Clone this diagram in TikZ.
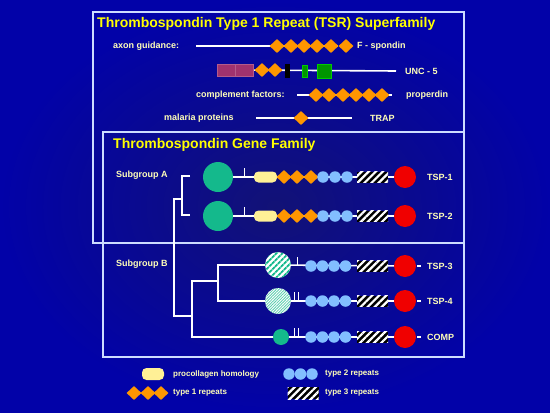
\documentclass[tikz,border=0pt]{standalone}
\usepackage{fontspec}
\setmainfont{Liberation Sans}
\usetikzlibrary{shapes.geometric, positioning, backgrounds, patterns.meta}

\definecolor{navyback}{RGB}{2,2,168}
\definecolor{navymid}{RGB}{18,18,118}
\definecolor{framecol}{RGB}{205,220,255}
\definecolor{titleyellow}{RGB}{255,255,0}
\definecolor{lblyellow}{RGB}{255,255,185}
\definecolor{repeatorange}{RGB}{255,150,0}
\definecolor{repeatblue}{RGB}{130,190,255}
\definecolor{procolyellow}{RGB}{255,240,150}
\definecolor{ntermgreen}{RGB}{20,185,140}
\definecolor{ctermred}{RGB}{240,0,0}
\definecolor{uncpurple}{RGB}{160,50,110}
\definecolor{uncgreen}{RGB}{0,150,0}

\begin{document}
\begin{tikzpicture}[
    x=1pt, y=-1pt,
    every node/.style={font=\bfseries\fontsize{9}{11}\selectfont, text=lblyellow},
    frame/.style={draw=framecol, line width=1.6pt},
    heading/.style={anchor=west, inner sep=0pt, font=\bfseries\fontsize{14}{16}\selectfont, text=titleyellow},
    lbl/.style={anchor=west, inner sep=0pt},
    keylbl/.style={anchor=west, inner sep=0pt, font=\bfseries\fontsize{8}{10}\selectfont},
    backbone/.style={draw=white, line width=1.6pt},
    rep1/.style={diamond, fill=repeatorange, minimum width=15, minimum height=14, inner sep=0pt},
    rep2/.style={circle, fill=repeatblue, minimum size=11.5, inner sep=0pt},
    rep3/.style={rectangle, fill=black, minimum width=31, minimum height=11, inner sep=0pt,
        postaction={pattern={Lines[angle=45, distance=5pt, line width=2.2pt]}, pattern color=white}},
    procol/.style={rectangle, rounded corners=4.5pt, fill=procolyellow, minimum width=23, minimum height=11, inner sep=0pt},
    ntermbig/.style={circle, fill=ntermgreen, minimum size=30, inner sep=0pt},
    ntermstripe/.style={circle, fill=white, minimum size=26, inner sep=0pt,
        postaction={pattern={Lines[angle=45, distance=4pt, line width=2pt]}, pattern color=ntermgreen}},
    ntermpale/.style={circle, fill=white, minimum size=26, inner sep=0pt,
        postaction={pattern={Lines[angle=45, distance=2pt, line width=0.8pt]}, pattern color=ntermgreen!70}},
    ntermsmall/.style={circle, fill=ntermgreen, minimum size=16, inner sep=0pt},
    cterm/.style={circle, fill=ctermred, minimum size=22, inner sep=0pt},
    uncbox/.style={rectangle, fill=uncpurple, draw=uncpurple!80!white, minimum width=18, minimum height=12, inner sep=0pt},
    uncbar/.style={rectangle, fill=black, minimum width=5, minimum height=14, inner sep=0pt},
    uncsmall/.style={rectangle, fill=uncgreen, draw=green!80!black, minimum width=5, minimum height=12, inner sep=0pt},
    uncsquare/.style={rectangle, fill=uncgreen, draw=green!80!black, minimum width=14, minimum height=14, inner sep=0pt}
]
    \useasboundingbox (0,0) rectangle (550,413);
    \begin{scope}[on background layer]
        \shade[inner color=navymid, outer color=navyback] (0,0) rectangle (550,413);
    \end{scope}

    % Superfamily box
    \draw[frame] (93,12) rectangle (464,243);
    \node[heading] (sf_title) at (97,24) {Thrombospondin Type 1 Repeat (TSR) Superfamily};

    % F-spondin
    \node[lbl] (axon_lbl) at (113,46) {axon guidance:};
    \coordinate (fsp_start) at (196,46);
    \node[rep1] (fsp_r1) at (277,46) {};
    \node[rep1] (fsp_r2) at (291,46) {};
    \node[rep1] (fsp_r3) at (304,46) {};
    \node[rep1] (fsp_r4) at (317,46) {};
    \node[rep1] (fsp_r5) at (331,46) {};
    \node[rep1] (fsp_r6) at (346,46) {};
    \node[lbl] (fsp_lbl) at (357,46) {F - spondin};

    % UNC-5
    \node[uncbox] (unc_ig1) at (226,70) {};
    \node[uncbox] (unc_ig2) at (244,70) {};
    \node[rep1] (unc_r1) at (262,70) {};
    \node[rep1] (unc_r2) at (275,70) {};
    \node[uncbar] (unc_tm) at (287,71) {};
    \node[uncsmall] (unc_zu5) at (305,71) {};
    \node[uncsquare] (unc_dd) at (324,71) {};
    \coordinate (unc_end) at (396,71);
    \node[lbl] (unc_lbl) at (405,71) {UNC - 5};

    % properdin
    \node[lbl] (compl_lbl) at (196,95) {complement factors:};
    \coordinate (prop_start) at (297,95);
    \node[rep1] (prop_r1) at (316,95) {};
    \node[rep1] (prop_r2) at (329,95) {};
    \node[rep1] (prop_r3) at (343,95) {};
    \node[rep1] (prop_r4) at (356,95) {};
    \node[rep1] (prop_r5) at (369,95) {};
    \node[rep1] (prop_r6) at (382,95) {};
    \coordinate (prop_end) at (392,95);
    \node[lbl] (prop_lbl) at (406,95) {properdin};

    % TRAP
    \node[lbl] (mal_lbl) at (164,118) {malaria proteins};
    \coordinate (trap_start) at (256,118);
    \node[rep1] (trap_r1) at (301,118) {};
    \coordinate (trap_end) at (352,118);
    \node[lbl] (trap_lbl) at (370,118) {TRAP};

    % Gene family box
    \draw[frame] (103,132) rectangle (464,357);
    \node[heading] (gf_title) at (113,145) {Thrombospondin Gene Family};
    \node[lbl] (subA_lbl) at (116,175) {Subgroup A};
    \node[lbl] (subB_lbl) at (116,264) {Subgroup B};

    % TSP-1
    \node[ntermbig] (tsp1_n) at (218,177) {};
    \node[procol] (tsp1_p) at (265.5,177) {};
    \node[rep1] (tsp1_r1) at (284,177) {};
    \node[rep1] (tsp1_r2) at (297,177) {};
    \node[rep1] (tsp1_r3) at (311,177) {};
    \node[rep2] (tsp1_b1) at (323,177) {};
    \node[rep2] (tsp1_b2) at (335,177) {};
    \node[rep2] (tsp1_b3) at (347,177) {};
    \node[rep3] (tsp1_h) at (372.5,177) {};
    \node[cterm] (tsp1_c) at (405,177) {};
    \node[lbl] (tsp1_lbl) at (427,177) {TSP-1};

    % TSP-2
    \node[ntermbig] (tsp2_n) at (218,216) {};
    \node[procol] (tsp2_p) at (265.5,216) {};
    \node[rep1] (tsp2_r1) at (284,216) {};
    \node[rep1] (tsp2_r2) at (297,216) {};
    \node[rep1] (tsp2_r3) at (311,216) {};
    \node[rep2] (tsp2_b1) at (323,216) {};
    \node[rep2] (tsp2_b2) at (335,216) {};
    \node[rep2] (tsp2_b3) at (347,216) {};
    \node[rep3] (tsp2_h) at (372.5,216) {};
    \node[cterm] (tsp2_c) at (405,216) {};
    \node[lbl] (tsp2_lbl) at (427,216) {TSP-2};

    % TSP-3
    \node[ntermstripe] (tsp3_n) at (278,265) {};
    \node[rep2] (tsp3_b1) at (311,266) {};
    \node[rep2] (tsp3_b2) at (322.5,266) {};
    \node[rep2] (tsp3_b3) at (334,266) {};
    \node[rep2] (tsp3_b4) at (345.5,266) {};
    \node[rep3] (tsp3_h) at (372.5,266) {};
    \node[cterm] (tsp3_c) at (405,266) {};
    \coordinate (tsp3_d1) at (417,266);
    \coordinate (tsp3_d2) at (421,266);
    \node[lbl] (tsp3_lbl) at (427,266) {TSP-3};

    % TSP-4
    \node[ntermpale] (tsp4_n) at (278,301) {};
    \node[rep2] (tsp4_b1) at (311,301) {};
    \node[rep2] (tsp4_b2) at (322.5,301) {};
    \node[rep2] (tsp4_b3) at (334,301) {};
    \node[rep2] (tsp4_b4) at (345.5,301) {};
    \node[rep3] (tsp4_h) at (372.5,301) {};
    \node[cterm] (tsp4_c) at (405,301) {};
    \coordinate (tsp4_d1) at (417,301);
    \coordinate (tsp4_d2) at (421,301);
    \node[lbl] (tsp4_lbl) at (427,301) {TSP-4};

    % COMP
    \node[ntermsmall] (comp_n) at (281,337) {};
    \node[rep2] (comp_b1) at (311,337) {};
    \node[rep2] (comp_b2) at (322.5,337) {};
    \node[rep2] (comp_b3) at (334,337) {};
    \node[rep2] (comp_b4) at (345.5,337) {};
    \node[rep3] (comp_h) at (372.5,337) {};
    \node[cterm] (comp_c) at (405,337) {};
    \coordinate (comp_d1) at (417,337);
    \coordinate (comp_d2) at (421,337);
    \node[lbl] (comp_lbl) at (427,337) {COMP};

    % Tree points
    \coordinate (treeA_top) at (190,176);
    \coordinate (treeA_bot) at (190,215);
    \coordinate (tree_root) at (174,199);
    \coordinate (treeB_mid) at (192,316);
    \coordinate (treeB_in) at (218,281);

    % Key
    \node[procol, minimum width=22, minimum height=12] (key_p) at (153,374) {};
    \node[keylbl] (key_p_lbl) at (173,374) {procollagen homology};
    \node[rep2] (key_b1) at (289,374) {};
    \node[rep2] (key_b2) at (300.5,374) {};
    \node[rep2] (key_b3) at (312,374) {};
    \node[keylbl] (key_b_lbl) at (325,374) {type 2 repeats};
    \node[rep1] (key_r1) at (134,393) {};
    \node[rep1] (key_r2) at (148,393) {};
    \node[rep1] (key_r3) at (161,393) {};
    \node[keylbl] (key_r_lbl) at (173,393) {type 1 repeats};
    \node[rep3, minimum height=12] (key_h) at (303,393) {};
    \node[keylbl] (key_h_lbl) at (325,393) {type 3 repeats};

    % Backbones behind the domains
    \begin{scope}[on background layer]
        \draw[backbone] (fsp_start) -- (fsp_r6);
        \draw[backbone] (unc_ig2) -- (unc_end);
        \draw[backbone] (prop_start) -- (prop_end);
        \draw[backbone] (trap_start) -- (trap_end);
        \draw[backbone] (tsp1_n) -- (tsp1_c);
        \draw[backbone] (tsp2_n) -- (tsp2_c);
        \draw[backbone] (tsp3_n) -- (tsp3_c);
        \draw[backbone] (tsp4_n) -- (tsp4_c);
        \draw[backbone] (comp_n) -- (comp_c);
    \end{scope}
    \draw[backbone] (tsp3_d1) -- (tsp3_d2);
    \draw[backbone] (tsp4_d1) -- (tsp4_d2);
    \draw[backbone] (comp_d1) -- (comp_d2);

    % Ticks on the backbones
    \draw[backbone, line width=1pt] (244,177) -- ++(0,-9);
    \draw[backbone, line width=1pt] (244,216) -- ++(0,-9);
    \draw[backbone, line width=1pt] (297,266) -- ++(0,-9);
    \draw[backbone, line width=1pt] (294,301) -- ++(0,-9) (298,301) -- ++(0,-9);
    \draw[backbone, line width=1pt] (294,337) -- ++(0,-9) (298,337) -- ++(0,-9);

    % Tree
    \draw[backbone] (treeA_top) -| (182,199) |- (treeA_bot);
    \draw[backbone] (182,199) -- (tree_root) |- (treeB_mid);
    \draw[backbone] (treeB_mid) |- (treeB_in);
    \draw[backbone] (treeB_mid) |- (comp_n.west);
    \draw[backbone] (treeB_in) |- (tsp3_n.west);
    \draw[backbone] (treeB_in) |- (tsp4_n.west);

\end{tikzpicture}
\end{document}
